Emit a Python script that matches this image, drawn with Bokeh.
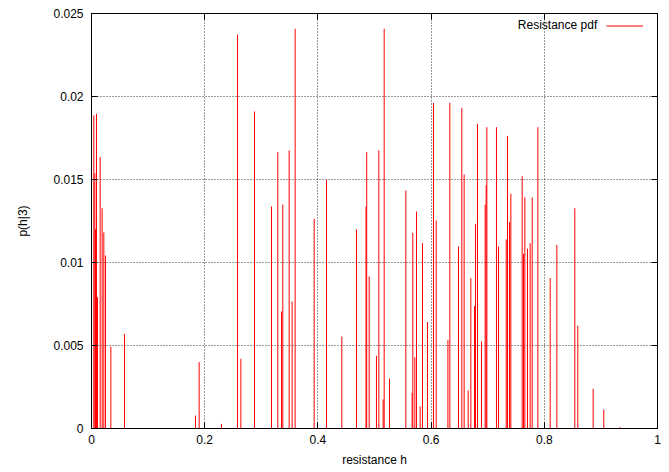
from bokeh.plotting import figure
from bokeh.models import (Range1d, FixedTicker, LinearAxis, Label, Legend,
                          LegendItem, ColumnDataSource)
from bokeh.embed import file_html
from bokeh.resources import INLINE

# resistance values h and probability p(h|3)
h_vals = [0.0, 0.0041, 0.0059, 0.0071, 0.0088, 0.0106, 0.0153, 0.0188, 0.0218, 0.0247,
          0.0342, 0.0583, 0.1837, 0.1902, 0.2297, 0.2580, 0.2639, 0.2880, 0.3180, 0.3292,
          0.3357, 0.3380, 0.3492, 0.3545, 0.3598, 0.3934, 0.4152, 0.4423, 0.4682, 0.4850,
          0.4862, 0.4906, 0.5035, 0.5077, 0.5153, 0.5171, 0.5265, 0.5554, 0.5665, 0.5677,
          0.5713, 0.5742, 0.5807, 0.5848, 0.5936, 0.6042, 0.6090, 0.6297, 0.6331, 0.6484,
          0.6543, 0.6584, 0.6655, 0.6702, 0.6767, 0.6784, 0.6820, 0.6890, 0.6955, 0.6972,
          0.6985, 0.7155, 0.7191, 0.7327, 0.7350, 0.7385, 0.7409, 0.7609, 0.7633, 0.7656,
          0.7703, 0.7750, 0.7786, 0.7886, 0.8104, 0.8222, 0.8539, 0.8592, 0.8863, 0.9051,
          0.9334, 0.9995]
p_vals = [0.02237, 0.01886, 0.01538, 0.01199, 0.01896, 0.00791, 0.01635, 0.01327, 0.01181, 0.01042,
          0.00494, 0.00570, 0.00078, 0.00400, 0.00028, 0.02373, 0.00420, 0.01910, 0.01337, 0.01665,
          0.00705, 0.01349, 0.01675, 0.00765, 0.02408, 0.01263, 0.01498, 0.00554, 0.01199, 0.01337,
          0.01665, 0.00916, 0.00438, 0.01675, 0.00175, 0.02408, 0.00301, 0.01434, 0.00215, 0.01178,
          0.00428, 0.01307, 0.00133, 0.01116, 0.00641, 0.01962, 0.01253, 0.00534, 0.01962, 0.01096,
          0.01932, 0.01530, 0.00229, 0.00906, 0.00737, 0.01233, 0.01835, 0.00524, 0.01349, 0.01466,
          0.01815, 0.01815, 0.01096, 0.01139, 0.01763, 0.01243, 0.01414, 0.01520, 0.01052, 0.01392,
          0.01084, 0.01116, 0.01392, 0.01815, 0.00906, 0.01106, 0.01327, 0.00620, 0.00239, 0.00114,
          0.00008, 0.00008]

x_ticks = [0, 0.2, 0.4, 0.6, 0.8, 1.0]
x_tick_labels = ["0", "0.2", "0.4", "0.6", "0.8", "1"]
y_ticks = [0, 0.005, 0.01, 0.015, 0.02, 0.025]
y_tick_labels = ["0", "0.005", "0.01", "0.015", "0.02", "0.025"]

FONT = "Liberation Sans"

p = figure(width=669, height=472, x_range=Range1d(0, 1), y_range=Range1d(0, 0.025),
           output_backend="svg", toolbar_location=None,
           min_border_left=91, min_border_top=13, min_border_right=12, min_border_bottom=44,
           background_fill_color="white", border_fill_color="white")
p.outline_line_color = "black"
p.outline_line_width = 1

src = ColumnDataSource(dict(h=h_vals, p=p_vals, zero=[0.0] * len(h_vals)))
r = p.segment(x0="h", y0="zero", x1="h", y1="p", source=src, line_color="#ff0000", line_width=1)

xt = FixedTicker(ticks=x_ticks)
yt = FixedTicker(ticks=y_ticks)

for ax, ticks, labels in ((p.xaxis[0], xt, x_tick_labels), (p.yaxis[0], yt, y_tick_labels)):
    ax.ticker = ticks
    ax.major_label_overrides = {t: l for t, l in zip(ticks.ticks, labels)}
    ax.major_tick_in = 6
    ax.major_tick_out = 0
    ax.minor_tick_line_color = None
    ax.axis_line_color = "black"
    ax.major_tick_line_color = "black"
    ax.major_label_text_font = FONT
    ax.major_label_text_font_size = "12px"
    ax.major_label_text_color = "black"
    ax.axis_label_text_font = FONT
    ax.axis_label_text_font_size = "12px"
    ax.axis_label_text_font_style = "normal"
    ax.axis_label_text_color = "black"

p.xaxis.axis_label = "resistance h"
p.xaxis.major_label_standoff = 6
p.xaxis.axis_label_standoff = 6
p.yaxis.axis_label = "p(h|3)"
p.yaxis.major_label_standoff = 8
p.yaxis.axis_label_standoff = 20

# mirrored ticks on the top and right (labels not drawn)
for side, ticks in (("right", yt), ("above", xt)):
    ax = LinearAxis(ticker=ticks, major_tick_in=6, major_tick_out=0,
                    minor_tick_line_color=None, axis_line_color="black",
                    major_label_text_color=None, major_label_standoff=0,
                    major_label_overrides={t: "" for t in ticks.ticks})
    p.add_layout(ax, side)

for g in (p.xgrid[0], p.ygrid[0]):
    g.grid_line_color = "black"
    g.grid_line_alpha = 0.8
    g.grid_line_dash = "1 2"
    g.grid_line_width = 1
p.xgrid.ticker = xt
p.ygrid.ticker = yt

legend = Legend(items=[LegendItem(label=" ", renderers=[r])], location=(515, 396),
                glyph_width=37, glyph_height=13, padding=0, margin=0, label_standoff=0,
                label_width=0, label_height=13, border_line_color=None,
                background_fill_alpha=0, label_text_font_size="2px",
                label_text_color=None)
p.add_layout(legend)

p.add_layout(Label(x=0.8935, y=0.02428, text="Resistance pdf", text_align="right",
                   text_baseline="middle", text_font=FONT, text_font_size="12px",
                   text_color="black"))

open("out.html", "w").write(file_html(p, INLINE))
